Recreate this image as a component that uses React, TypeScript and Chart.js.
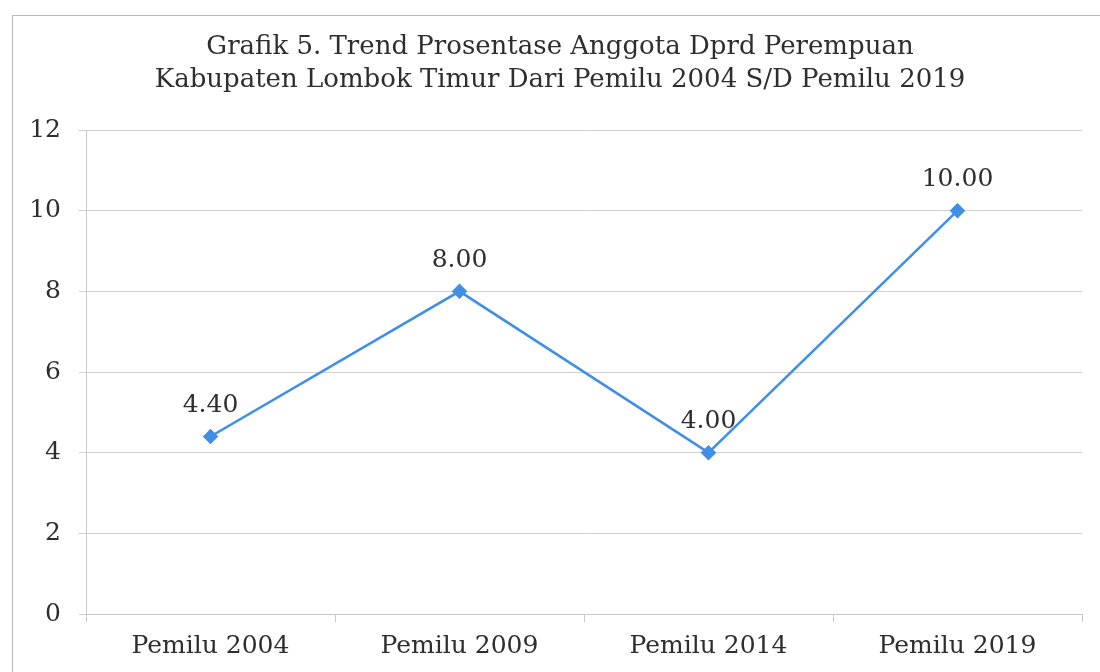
import React, { useEffect, useRef } from "react";
import { Chart, registerables } from "chart.js";

Chart.register(...registerables);

const titleLines = [
  "Grafik 5. Trend Prosentase Anggota Dprd Perempuan",
  "Kabupaten Lombok Timur Dari Pemilu 2004 S/D Pemilu 2019",
];
const categories = ["Pemilu 2004", "Pemilu 2009", "Pemilu 2014", "Pemilu 2019"];
const values = [4.4, 8.0, 4.0, 10.0];
const yTicks = [0, 2, 4, 6, 8, 10, 12];

const FONT = "'DejaVu Serif', 'Liberation Serif', serif";
const TEXT = "#2e2e2e";
const LINE = "#3f8fe6";

const titlePlugin = {
  id: "customTitle",
  afterDraw(chart: any) {
    const ctx = chart.ctx;
    ctx.save();
    ctx.font = `26px ${FONT}`;
    ctx.fillStyle = TEXT;
    ctx.textAlign = "center";
    ctx.textBaseline = "middle";
    ctx.fillText(titleLines[0], 560, 47);
    ctx.fillText(titleLines[1], 560, 80);
    ctx.restore();
  },
};

const dataLabelPlugin = {
  id: "dataLabels",
  afterDatasetsDraw(chart: any) {
    const ctx = chart.ctx;
    const meta = chart.getDatasetMeta(0);
    ctx.save();
    ctx.font = `25px ${FONT}`;
    ctx.fillStyle = TEXT;
    ctx.textAlign = "center";
    ctx.textBaseline = "middle";
    meta.data.forEach((pt: any, i: number) => {
      ctx.fillText(values[i].toFixed(2), pt.x, pt.y - 31);
    });
    ctx.restore();
  },
};

export default function App() {
  const ref = useRef<HTMLCanvasElement>(null);
  useEffect(() => {
    if (!ref.current) return;
    const chart = new Chart(ref.current, {
      type: "line",
      data: {
        labels: categories,
        datasets: [
          {
            data: values,
            borderColor: LINE,
            backgroundColor: LINE,
            borderWidth: 2.5,
            pointStyle: "rectRot",
            pointRadius: 6,
            pointBackgroundColor: LINE,
            pointBorderColor: LINE,
            tension: 0,
          },
        ],
      },
      options: {
        responsive: false,
        animation: false,
        layout: { padding: { top: 130, right: 18, left: 0, bottom: 0 } },
        plugins: {
          legend: { display: false },
          title: { display: false },
          tooltip: { enabled: false },
        },
        scales: {
          x: {
            offset: true,
            grid: {
              offset: true,
              drawOnChartArea: false,
              drawTicks: true,
              tickLength: 8,
              color: "#c8c8c8",
            },
            border: { display: true, color: "#c8c8c8" },
            ticks: {
              color: TEXT,
              font: { family: FONT, size: 25 },
              padding: 9,
              maxRotation: 0,
            },
            afterFit(scale: any) {
              scale.height = 58;
            },
          },
          y: {
            min: 0,
            max: 12,
            afterBuildTicks(scale: any) {
              scale.ticks = yTicks.map((v) => ({ value: v }));
            },
            grid: {
              color: "#d0d0d0",
              drawTicks: true,
              tickLength: 7,
            },
            border: { display: true, color: "#c8c8c8" },
            ticks: {
              color: TEXT,
              font: { family: FONT, size: 25 },
              padding: 18,
            },
            afterFit(scale: any) {
              scale.width = 86;
            },
          },
        },
      },
      plugins: [titlePlugin, dataLabelPlugin],
    });
    return () => chart.destroy();
  }, []);

  return (
    <div
      style={{
        position: "fixed",
        left: 0,
        top: 0,
        width: 1100,
        height: 672,
        background: "#fff",
        overflow: "hidden",
      }}
    >
      <div
        style={{
          position: "absolute",
          left: 12,
          top: 15,
          width: 1200,
          height: 800,
          borderLeft: "1px solid #b8b8b8",
          borderTop: "1px solid #b8b8b8",
        }}
      />
      <canvas
        ref={ref}
        width={1100}
        height={672}
        style={{ position: "absolute", left: 0, top: 0 }}
      />
    </div>
  );
}
